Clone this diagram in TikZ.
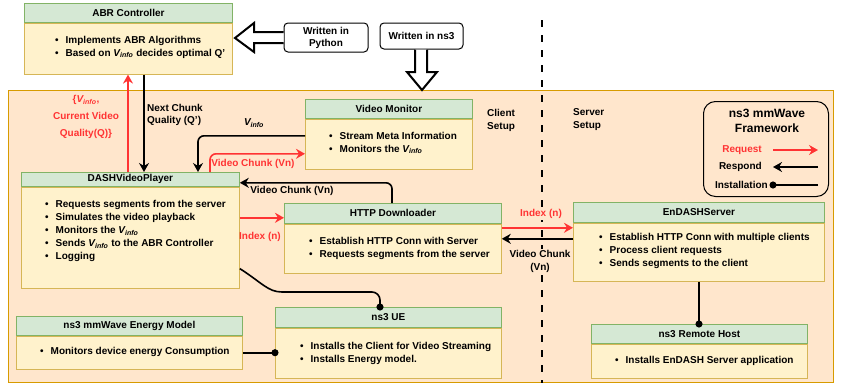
\documentclass[tikz,border=0pt]{standalone}
\usepackage{fontspec}
\setmainfont{Liberation Sans}
\usetikzlibrary{arrows.meta,calc}
\definecolor{hdrfill}{HTML}{D5E8D4}
\definecolor{hdrdraw}{HTML}{82B366}
\definecolor{bdyfill}{HTML}{FFF2CC}
\definecolor{bdydraw}{HTML}{D6B656}
\definecolor{bgfill}{HTML}{FFE6CC}
\definecolor{bgdraw}{HTML}{D79B00}
\definecolor{req}{HTML}{FF3333}
\newcommand{\Vi}{\textit{V\textsubscript{info}}}
\newcommand{\blist}[1]{\begin{tabular}{@{}l@{\hspace{7pt}}l@{}}#1\end{tabular}}
\newcommand{\umlbox}[7]{%
  \node[hdr, minimum width=#4pt, minimum height=#5pt] (#1h) at (#2,#3) {#7};
  \node[bdy, minimum width=#4pt, minimum height=#6pt] (#1b) at (#1h.south west) {};}
\begin{document}
\begin{tikzpicture}[x=1pt,y=-1pt,
  every node/.style={font=\bfseries\fontsize{10}{12}\selectfont, inner sep=0pt},
  hdr/.style={draw=hdrdraw, fill=hdrfill, line width=0.8pt, anchor=north west},
  bdy/.style={draw=bdydraw, fill=bdyfill, line width=0.8pt, anchor=north west},
  txt/.style={anchor=west, align=left, font=\bfseries\fontsize{10}{13}\selectfont},
  resp/.style={draw=black, line width=1.6pt, -{Stealth[length=9pt,width=10pt,inset=3pt]}, rounded corners=6pt},
  reqa/.style={draw=req, line width=1.6pt, -{Stealth[length=9pt,width=10pt,inset=3pt]}, rounded corners=6pt},
  inst/.style={draw=black, line width=1.6pt, -{Circle[length=7pt]}, shorten >=-3.5pt},
  lbl/.style={align=center},
  rlbl/.style={align=center, text=req},
  wbox/.style={draw, rounded corners=4pt, line width=1pt, fill=white, align=center}
]
\useasboundingbox (0,0) rectangle (852,388);
% background region
\draw[fill=bgfill, draw=bgdraw, line width=1pt] (8,90) rectangle (833,382);
% client / server separator
\draw[line width=2.5pt, dash pattern=on 7pt off 8pt] (542,20) -- (542,383);

% boxes
\umlbox{abr}{24}{3}{208}{19}{51}{ABR Controller}
\umlbox{vm}{305}{99}{167}{19}{50}{Video Monitor}
\umlbox{dash}{21}{172}{218}{14}{101}{DASHVideoPlayer}
\umlbox{http}{284}{203}{217}{20}{49}{HTTP Downloader}
\umlbox{end}{573}{202}{251}{20}{58}{EnDASHServer}
\umlbox{en}{16}{316}{226}{19}{33}{ns3 mmWave Energy Model}
\umlbox{ue}{275}{307}{226}{20}{50}{ns3 UE}
\umlbox{rh}{591}{324}{216}{19}{34}{ns3 Remote Host}

% body texts
\node[txt] (abrt) at (55,47) {\blist{\textbullet & Implements ABR Algorithms\\ \textbullet & Based on \Vi{} decides optimal Q'}};
\node[txt] (vmt) at (329,143) {\blist{\textbullet & Stream Meta Information\\ \textbullet & Monitors the \Vi}};
\node[txt] (dasht) at (45,231) {\blist{\textbullet & Requests segments from the server\\ \textbullet & Simulates the video playback\\ \textbullet & Monitors the \Vi\\ \textbullet & Sends \Vi{} to the ABR Controller\\ \textbullet & Logging}};
\node[txt] (httpt) at (309,248) {\blist{\textbullet & Establish HTTP Conn with Server\\ \textbullet & Requests segments from the server}};
\node[txt] (endt) at (599,251) {\blist{\textbullet & Establish HTTP Conn with multiple clients\\ \textbullet & Process client requests\\ \textbullet & Sends segments to the client}};
\node[txt] (ent) at (40,352) {\blist{\textbullet & Monitors device energy Consumption}};
\node[txt] (uet) at (300,353) {\blist{\textbullet & Installs the Client for Video Streaming\\ \textbullet & Installs Energy model.}};
\node[txt] (rht) at (615,361) {\blist{\textbullet & Installs EnDASH Server application}};

% language boxes
\node[wbox, minimum width=84pt, minimum height=29pt] (py) at (326,37.5) {Written in\\Python};
\node[wbox, minimum width=83pt, minimum height=26pt] (ns) at (421.5,36) {Written in ns3};
\draw[line width=2pt, fill=white] (py.west |- 0,32) -- (254,32) -- (254,23) -- (235,38) -- (254,52) -- (254,43) -- (py.west |- 0,43);
\draw[line width=2pt, fill=white] (415,0 |- ns.south) -- (415,72) -- (407,72) -- (422,90) -- (437,72) -- (427,72) -- (427,0 |- ns.south);

% connectors
\draw[reqa] ([xshift=107pt]dashh.north west) coordinate (u1) -- (u1 |- abrb.south);
\draw[resp] ([xshift=120pt]abrb.south west) coordinate (d1) -- (d1 |- dashh.north);
\draw[resp] ([yshift=-17pt]vmb.north west) -| ([xshift=177pt]dashh.north west);
\draw[reqa] ([xshift=189pt]dashh.north west) |- ([yshift=-35pt]vmb.north west);
\draw[resp] ([xshift=108pt]httph.north west) |- ([yshift=4pt]dashh.south east);
\draw[reqa] ([yshift=-31pt]dashb.north east) coordinate (a1) -- (a1 -| httpb.west);
\draw[reqa] ([yshift=-4pt]httpb.north east) coordinate (b1) -- (b1 -| endb.west);
\draw[resp] ([yshift=-16pt]endb.north west) coordinate (c1) -- (c1 -| httpb.east);
\draw[inst] ([xshift=126pt]endb.south west) coordinate (e1) -- (e1 |- rhh.north);
\draw[inst] (enb.east) -- (enb.east -| ueb.west);
\draw[inst, rounded corners=8pt] ([yshift=20pt]dashb.south east) .. controls +(22,14) and +(-22,0) .. (290,292) -- (380,292) -- ([xshift=105pt]ueh.north west);

% connector labels
\node[rlbl, font=\bfseries\fontsize{10}{17}\selectfont] (l1) at (86,117) {\{\Vi,\\Current Video\\Quality(Q)\}};
\node[anchor=west, align=left, font=\bfseries\fontsize{10}{12}\selectfont] (l2) at (147,115) {Next Chunk\\Quality (Q')};
\node[lbl] (l3) at (254,123) {\Vi};
\node[rlbl] (l4) at (253,164) {Video Chunk (Vn)};
\node[lbl] (l5) at (292,191) {Video Chunk (Vn)};
\node[rlbl] (l6) at (260,237) {Index (n)};
\node[rlbl, fill=bgfill, inner sep=1pt] (l7) at (541,214) {Index (n)};
\node[lbl, fill=bgfill, inner sep=1pt, font=\bfseries\fontsize{10}{13}\selectfont] (l8) at (540,261) {Video Chunk\\(Vn)};
\node[anchor=west, align=left, font=\bfseries\fontsize{10}{13}\selectfont] (cs) at (487,120) {Client\\Setup};
\node[anchor=west, align=left, font=\bfseries\fontsize{10}{13}\selectfont] (ss) at (573,120) {Server\\Setup};

% legend
\node[draw, rounded corners=12pt, line width=1pt, minimum width=125pt, minimum height=95pt, anchor=north west] (leg) at (703,101) {};
\node[align=center, font=\bfseries\fontsize{12}{15}\selectfont] (legt) at (767,121) {ns3 mmWave\\Framework};
\node[anchor=east, text=req] (lreq) at (762,150) {Request};
\node[anchor=east] (lres) at (762,167) {Respond};
\node[anchor=east] (lins) at (768,185) {Installation};
\coordinate (q1) at (773,150); \coordinate (q2) at (818,150);
\coordinate (r1) at (818,167); \coordinate (r2) at (773,167);
\coordinate (s1) at (818,185); \coordinate (s2) at (773,185);
\draw[reqa] (q1) -- (q2);
\draw[resp] (r1) -- (r2);
\draw[inst] (s1) -- (s2);
\end{tikzpicture}
\end{document}
